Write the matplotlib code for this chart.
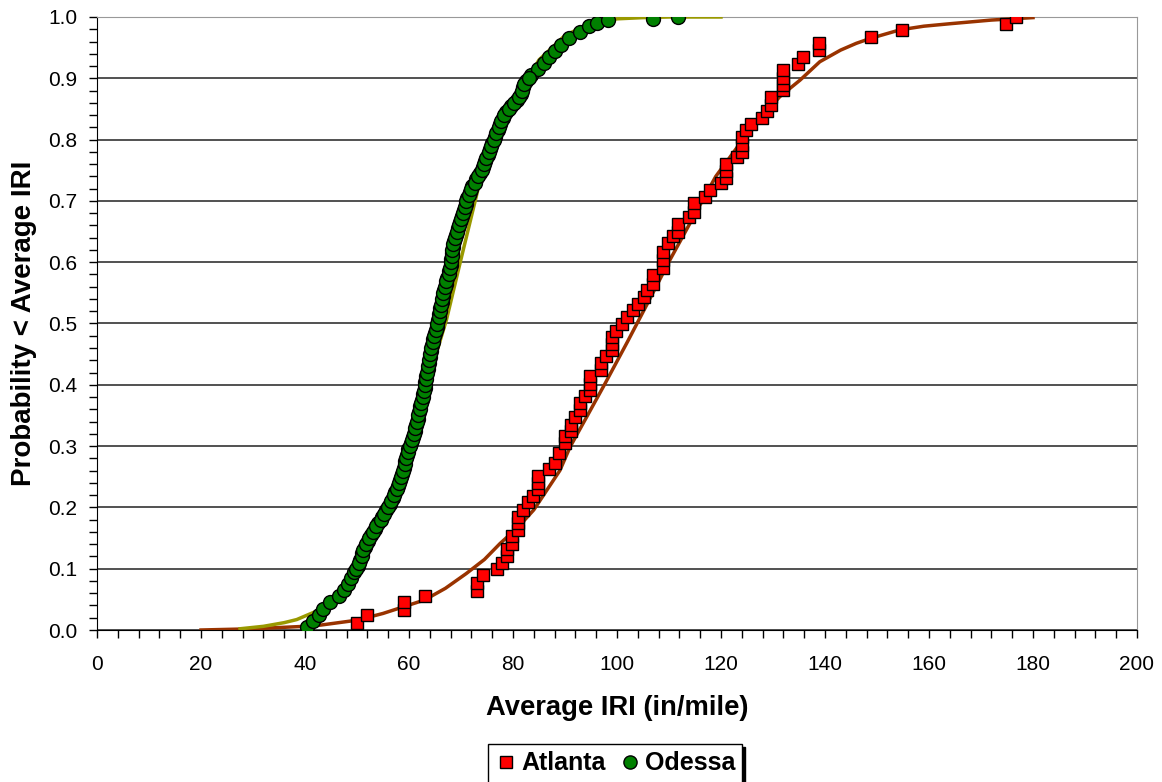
import matplotlib
matplotlib.use("Agg")
import matplotlib.pyplot as plt
from matplotlib.ticker import MultipleLocator, FormatStrFormatter

plt.rcParams['font.family'] = ['Liberation Sans', 'DejaVu Sans']

# Atlanta observations (IRI, cumulative probability)
atl_x = [50, 52, 59, 59, 63, 73, 73, 74.2, 76.9, 77.8, 78.8, 78.8, 79.9, 79.9,
         81, 81, 81, 82, 82.9, 83.9, 84.9, 84.9, 84.9, 87, 88.1, 88.9,
         90, 90, 91.1, 91.1, 91.9, 92.9, 92.9, 93.8, 94.8, 94.8, 94.8, 96.9,
         96.9, 97.9, 99, 99, 99, 99.9, 100.9, 101.9, 103, 104.1, 105.2, 105.7,
         106.9, 106.9, 108.8, 108.8, 108.8, 109.9, 110.8, 111.8, 111.8, 113.9,
         114.9, 114.9, 116.9, 117.9, 120, 121, 121, 121, 123, 124, 124, 124,
         124.9, 125.8, 127.8, 128.8, 129.7, 129.7, 131.9, 131.9, 131.9, 131.9,
         134.9, 135.8, 138.9, 138.9, 148.8, 154.9, 174.8, 176.7]
atl_y = [0.012, 0.024, 0.033, 0.046, 0.056, 0.063, 0.076, 0.089, 0.099, 0.109,
         0.120, 0.132, 0.141, 0.153, 0.163, 0.174, 0.185, 0.196, 0.208, 0.219,
         0.230, 0.240, 0.251, 0.262, 0.273, 0.289, 0.305, 0.316, 0.324, 0.334,
         0.348, 0.359, 0.370, 0.381, 0.392, 0.402, 0.414, 0.424, 0.436, 0.447,
         0.456, 0.467, 0.478, 0.487, 0.500, 0.511, 0.522, 0.532, 0.543, 0.555,
         0.565, 0.579, 0.590, 0.604, 0.617, 0.631, 0.642, 0.650, 0.663, 0.674,
         0.682, 0.696, 0.707, 0.718, 0.729, 0.737, 0.748, 0.761, 0.772, 0.780,
         0.791, 0.805, 0.816, 0.826, 0.835, 0.846, 0.856, 0.870, 0.881, 0.889,
         0.900, 0.913, 0.924, 0.935, 0.946, 0.957, 0.968, 0.978, 0.989, 1.000]

# Odessa observations
ode_x = [40.3, 41.6, 42.7, 43.5, 44.8, 46.5, 47.5, 48.2, 48.8, 49.4,
         50.1, 50.6, 51.0, 51.5, 52.1, 52.7, 53.4, 54.1, 54.9, 55.6,
         56.3, 56.9, 57.4, 57.9, 58.3, 58.7, 59.0, 59.3, 59.6, 59.9,
         60.3, 60.7, 61.1, 61.4, 61.7, 62.0, 62.2, 62.5, 62.7, 63.0,
         63.1, 63.3, 63.6, 63.8, 64.0, 64.2, 64.5, 64.7, 65.0, 65.3,
         65.5, 65.8, 66.0, 66.3, 66.5, 66.8, 67.1, 67.4, 67.7, 68.0,
         68.1, 68.3, 68.4, 68.6, 69.0, 69.5, 69.9, 70.2, 70.6, 70.9,
         71.2, 71.7, 72.2, 72.9, 73.7, 74.3, 74.7, 75.1, 75.5, 76.0,
         76.6, 77.1, 77.5, 78.0, 78.7, 79.7, 80.8, 81.5, 82.0, 82.5,
         83.5, 84.9, 85.9, 86.9, 88.0, 89.3, 90.8, 92.8, 94.6, 96.1,
         98.3, 107.0, 111.7]
ode_y = [0.005, 0.015, 0.025, 0.035, 0.045, 0.055, 0.065, 0.075, 0.085, 0.095,
         0.105, 0.115, 0.125, 0.135, 0.145, 0.155, 0.165, 0.175, 0.185, 0.195,
         0.205, 0.215, 0.225, 0.235, 0.245, 0.255, 0.265, 0.275, 0.285, 0.295,
         0.305, 0.315, 0.325, 0.335, 0.345, 0.355, 0.365, 0.375, 0.385, 0.395,
         0.405, 0.415, 0.425, 0.435, 0.445, 0.455, 0.465, 0.475, 0.485, 0.495,
         0.505, 0.515, 0.525, 0.535, 0.545, 0.555, 0.565, 0.575, 0.585, 0.595,
         0.605, 0.615, 0.625, 0.635, 0.645, 0.655, 0.665, 0.675, 0.685, 0.695,
         0.705, 0.715, 0.725, 0.735, 0.745, 0.755, 0.765, 0.775, 0.785, 0.795,
         0.805, 0.815, 0.825, 0.835, 0.845, 0.855, 0.865, 0.875, 0.885, 0.895,
         0.905, 0.915, 0.925, 0.935, 0.945, 0.955, 0.965, 0.975, 0.985, 0.990,
         0.995, 0.996, 1.000]

# Odessa observations in between (the dense middle of the band)
ode_x_mid = [49.8, 50.3, 50.9, 51.2, 51.8, 52.4, 53.1, 53.7, 54.6, 55.2,
             56.0, 56.5, 57.2, 57.6, 58.1, 58.5, 58.8, 59.2, 59.4, 59.8,
             60.1, 60.5, 60.9, 61.2, 61.6, 61.8, 62.1, 62.4, 62.6, 62.8,
             63.0, 63.2, 63.5, 63.7, 63.9, 64.1, 64.3, 64.6, 64.9, 65.1,
             65.4, 65.7, 65.9, 66.1, 66.4, 66.6, 67.0, 67.2, 67.6, 67.8,
             68.0, 68.2, 68.3, 68.5, 68.8, 69.2, 69.7, 70.0, 70.4, 70.7,
             71.0, 71.5, 71.9, 72.6, 73.3, 74.0, 74.5, 74.9, 75.3, 75.8,
             76.3, 76.8, 77.3, 77.7, 78.3, 79.2, 80.2, 81.1, 81.8, 82.2, 83.0]
ode_y_mid = [0.10, 0.11, 0.12, 0.13, 0.14, 0.15, 0.16, 0.17, 0.18, 0.19,
             0.20, 0.21, 0.22, 0.23, 0.24, 0.25, 0.26, 0.27, 0.28, 0.29,
             0.30, 0.31, 0.32, 0.33, 0.34, 0.35, 0.36, 0.37, 0.38, 0.39,
             0.40, 0.41, 0.42, 0.43, 0.44, 0.45, 0.46, 0.47, 0.48, 0.49,
             0.50, 0.51, 0.52, 0.53, 0.54, 0.55, 0.56, 0.57, 0.58, 0.59,
             0.60, 0.61, 0.62, 0.63, 0.64, 0.65, 0.66, 0.67, 0.68, 0.69,
             0.70, 0.71, 0.72, 0.73, 0.74, 0.75, 0.76, 0.77, 0.78, 0.79,
             0.80, 0.81, 0.82, 0.83, 0.84, 0.85, 0.86, 0.87, 0.88, 0.89, 0.90]

# fitted distributions
atl_fit_x = [20, 30, 40, 43, 50, 55, 63, 67, 71, 74.5, 77.5, 81, 84, 86.5, 89,
             91, 94, 97.7, 102, 106, 110, 114, 119, 125.6, 131.3, 135.2, 139,
             143, 146, 148.7, 154.4, 159, 164, 172, 180]
atl_fit_y = [0.0, 0.002, 0.006, 0.008, 0.016, 0.027, 0.049, 0.068, 0.092, 0.115,
             0.141, 0.168, 0.196, 0.228, 0.26, 0.299, 0.345, 0.402, 0.47, 0.535,
             0.601, 0.663, 0.74, 0.816, 0.87, 0.897, 0.927, 0.946, 0.957, 0.965,
             0.979, 0.985, 0.989, 0.995, 0.999]
ode_fit_x = [27.5, 32, 36, 38.4, 42, 46, 50, 54, 58, 62, 67.2, 69.8, 73.7, 75.6,
             80, 85, 90, 95, 100, 105, 110, 115, 120]
ode_fit_y = [0.002, 0.006, 0.012, 0.017, 0.03, 0.055, 0.1, 0.16, 0.25, 0.36,
             0.506, 0.598, 0.734, 0.78, 0.86, 0.93, 0.97, 0.99, 0.997, 0.999,
             1.0, 1.0, 1.0]

fig = plt.figure(figsize=(11.62, 7.82), dpi=100)
ax = fig.add_axes([97 / 1162, 152 / 782, 1040 / 1162, 613 / 782])

ax.plot(atl_fit_x, atl_fit_y, color='#993300', lw=2.5, zorder=3)
ax.plot(ode_fit_x, ode_fit_y, color='#999900', lw=2.5, zorder=3)
ax.plot(atl_x, atl_y, 's', ms=8.5, mfc='#ff0000', mec='black', mew=1.0,
        zorder=4, label='Atlanta')
ax.plot(ode_x + ode_x_mid, ode_y + ode_y_mid, 'o', ms=10, mfc='#008000',
        mec='black', mew=1.0, zorder=5, label='Odessa')

ax.set_xlim(0, 200)
ax.set_ylim(0, 1.0)
ax.xaxis.set_major_locator(MultipleLocator(20))
ax.xaxis.set_minor_locator(MultipleLocator(4))
ax.yaxis.set_major_locator(MultipleLocator(0.1))
ax.yaxis.set_minor_locator(MultipleLocator(0.02))
ax.yaxis.set_major_formatter(FormatStrFormatter('%.1f'))
ax.tick_params(which='both', direction='out', length=6, width=1, color='black')
ax.tick_params(axis='x', which='major', labelsize=15, pad=12)
ax.tick_params(axis='y', which='major', labelsize=15, pad=8)
ax.grid(axis='y', which='major', color='#333333', lw=1.2, zorder=0)
ax.set_axisbelow(True)

for s in ['top', 'right']:
    ax.spines[s].set_color('#999999')
for s in ['left', 'bottom']:
    ax.spines[s].set_color('black')

ax.set_xlabel('Average IRI (in/mile)', fontsize=19.7, fontweight='bold', labelpad=15)
ax.set_ylabel('Probability < Average IRI', fontsize=20, fontweight='bold', labelpad=8)

fig.legend(loc='upper center', bbox_to_anchor=(615 / 1162, 1 - 744 / 782),
           borderaxespad=0, ncol=2, frameon=True, fancybox=False,
           edgecolor='black', shadow={'color': 'black', 'alpha': 1.0},
           prop={'weight': 'bold', 'size': 18}, handletextpad=0.15,
           columnspacing=0.5, borderpad=0.3, handlelength=0.9,
           markerscale=0.95)

fig.savefig('out.png', dpi=100)
